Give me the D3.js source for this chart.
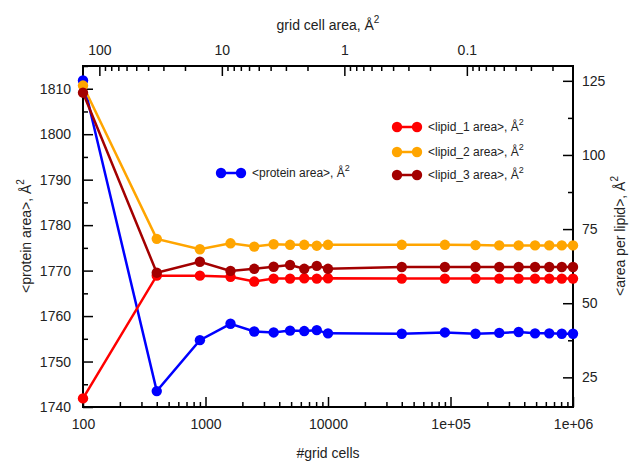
<!DOCTYPE html>
<html>
<head>
<meta charset="utf-8">
<script src="https://cdn.jsdelivr.net/npm/d3@7"></script>
<style>
  body { margin: 0; background: #fff; }
  svg { font-family: "Liberation Sans", Arial, Helvetica, sans-serif; }
  .axis text { font-size: 14px; fill: #222; }
  .axis path { display: none; }
  .axis line { stroke: #000; stroke-width: 1.5; }
</style>
</head>
<body>
<svg id="chart" width="635" height="461"></svg>
<script>
// grid sizes (number of cells) and averaged areas
var cells   = [100, 400, 900, 1600, 2500, 3600, 4900, 6400, 8100, 10000,
               40000, 90000, 160000, 250000, 360000, 490000, 640000, 810000, 1000000];
var protein = [1811.8, 1743.5, 1754.7, 1758.3, 1756.6, 1756.4, 1756.8, 1756.7, 1756.9, 1756.2,
               1756.1, 1756.4, 1756.1, 1756.3, 1756.5, 1756.2, 1756.2, 1756.1, 1756.1];
var lipid1  = [17.9, 59.3, 59.3, 58.9, 57.3, 58.3, 58.3, 58.4, 58.3, 58.4,
               58.3, 58.3, 58.3, 58.3, 58.3, 58.3, 58.3, 58.3, 58.3];
var lipid2  = [123.4, 71.7, 68.2, 70.2, 69.1, 69.9, 69.7, 69.7, 69.4, 69.7,
               69.7, 69.7, 69.6, 69.5, 69.5, 69.5, 69.5, 69.5, 69.5];
var lipid3  = [121.0, 60.3, 64.0, 60.9, 61.6, 62.3, 62.9, 61.6, 62.6, 61.6,
               62.2, 62.2, 62.2, 62.2, 62.2, 62.2, 62.2, 62.2, 62.2];

var boxArea = 13600; // total area, so grid cell area = boxArea / cells

var xTicks = [1e2, 1e3, 1e4, 1e5, 1e6];
var xTickLabels = ["100", "1000", "10000", "1e+05", "1e+06"];
var topTicks = [100, 10, 1, 0.1];
var topTickLabels = ["100", "10", "1", "0.1"];
var yTicks = [1740, 1750, 1760, 1770, 1780, 1790, 1800, 1810];
var y2Ticks = [25, 50, 75, 100, 125];

var series = [
  { name: "<protein area>, Å", values: protein, color: "#0000ff", axis: "left" },
  { name: "<lipid_1 area>, Å", values: lipid1, color: "#ff0000", axis: "right" },
  { name: "<lipid_2 area>, Å", values: lipid2, color: "#ffa500", axis: "right" },
  { name: "<lipid_3 area>, Å", values: lipid3, color: "#a30000", axis: "right" }
];

var svg = d3.select("#chart");
var pl = 83, pr = 573, pt = 66, pb = 407;

var x = d3.scaleLog().domain([100, 1e6]).range([pl, pr]);
var xTop = d3.scaleLog().domain([boxArea / 100, boxArea / 1e6]).range([pl, pr]);
var y = d3.scaleLinear().domain([1740, 1815]).range([pb, pt]);
var y2 = d3.scaleLinear().domain([15, 130]).range([pb, pt]);

svg.append("rect").attr("width", 635).attr("height", 461).attr("fill", "#fff");

// bottom axis
svg.append("g").attr("class", "axis")
  .attr("transform", "translate(0," + pb + ")")
  .call(d3.axisBottom(x).tickValues(xTicks)
    .tickFormat(function(d, i) { return xTickLabels[i]; })
    .tickSizeInner(-10).tickSizeOuter(0).tickPadding(12));
svg.append("g").attr("class", "axis")
  .attr("transform", "translate(0," + pb + ")")
  .call(d3.axisBottom(x).tickValues(x.ticks().filter(function(d) { return xTicks.indexOf(d) < 0; }))
    .tickFormat("").tickSizeInner(-5).tickSizeOuter(0));

// top axis (grid cell area)
svg.append("g").attr("class", "axis")
  .attr("transform", "translate(0," + pt + ")")
  .call(d3.axisTop(xTop).tickValues(topTicks)
    .tickFormat(function(d, i) { return topTickLabels[i]; })
    .tickSizeInner(-10).tickSizeOuter(0).tickPadding(11));
svg.append("g").attr("class", "axis")
  .attr("transform", "translate(0," + pt + ")")
  .call(d3.axisTop(xTop).tickValues(xTop.ticks().filter(function(d) {
      return topTicks.every(function(t) { return Math.abs(t - d) > 1e-9; });
    }))
    .tickFormat("").tickSizeInner(-5).tickSizeOuter(0));

// left axis
svg.append("g").attr("class", "axis")
  .attr("transform", "translate(" + pl + ",0)")
  .call(d3.axisLeft(y).tickValues(yTicks).tickFormat(d3.format("d"))
    .tickSizeInner(-10).tickSizeOuter(0).tickPadding(12));
svg.append("g").attr("class", "axis")
  .attr("transform", "translate(" + pl + ",0)")
  .call(d3.axisLeft(y).tickValues(yTicks.map(function(d) { return d + 5; }))
    .tickFormat("").tickSizeInner(-5).tickSizeOuter(0));

// right axis
svg.append("g").attr("class", "axis")
  .attr("transform", "translate(" + pr + ",0)")
  .call(d3.axisRight(y2).tickValues(y2Ticks).tickFormat(d3.format("d"))
    .tickSizeInner(-10).tickSizeOuter(0).tickPadding(9));
svg.append("g").attr("class", "axis")
  .attr("transform", "translate(" + pr + ",0)")
  .call(d3.axisRight(y2).tickValues(y2Ticks.slice(0, 4).map(function(d) { return d + 12.5; }))
    .tickFormat("").tickSizeInner(-5).tickSizeOuter(0));

// frame
svg.append("rect")
  .attr("x", pl).attr("y", pt)
  .attr("width", pr - pl).attr("height", pb - pt)
  .attr("fill", "none").attr("stroke", "#000").attr("stroke-width", 2);

// data
series.forEach(function(s) {
  var ys = s.axis == "left" ? y : y2;
  var line = d3.line()
    .x(function(d, i) { return x(cells[i]); })
    .y(function(d) { return ys(d); });
  var g = svg.append("g");
  g.append("path")
    .datum(s.values)
    .attr("d", line)
    .attr("fill", "none")
    .attr("stroke", s.color)
    .attr("stroke-width", 2.5);
  g.selectAll("circle")
    .data(s.values)
    .enter().append("circle")
      .attr("cx", function(d, i) { return x(cells[i]); })
      .attr("cy", function(d) { return ys(d); })
      .attr("r", 5.2)
      .attr("fill", s.color);
});

// legend
var legendPos = [[221, 173], [397, 127], [397, 152], [397, 175]];
series.forEach(function(s, i) {
  var p = legendPos[i];
  var g = svg.append("g").attr("transform", "translate(" + p[0] + "," + p[1] + ")");
  g.append("line").attr("x1", 0).attr("x2", 20)
    .attr("stroke", s.color).attr("stroke-width", 2.5);
  g.selectAll("circle").data([0, 20]).enter().append("circle")
    .attr("cx", function(d) { return d; }).attr("r", 5.2).attr("fill", s.color);
  var t = g.append("text").attr("x", 31).attr("y", 4)
    .attr("font-size", 12).attr("fill", "#222")
    .text(s.name);
  t.append("tspan").attr("dy", -6).attr("font-size", 9).text("2");
});

// axis titles
function title(txt, sup, tr) {
  var t = svg.append("text")
    .attr("transform", tr)
    .attr("text-anchor", "middle")
    .attr("font-size", 14).attr("fill", "#222")
    .text(txt);
  if (sup) t.append("tspan").attr("dy", -7).attr("font-size", 10).text("2");
}
title("grid cell area, Å", true, "translate(328,30)");
title("#grid cells", false, "translate(328,458)");
title("<protein area>, Å", true, "translate(31,236) rotate(-90)");
title("<area per lipid>, Å", true, "translate(625,236) rotate(-90)");
</script>
</body>
</html>
